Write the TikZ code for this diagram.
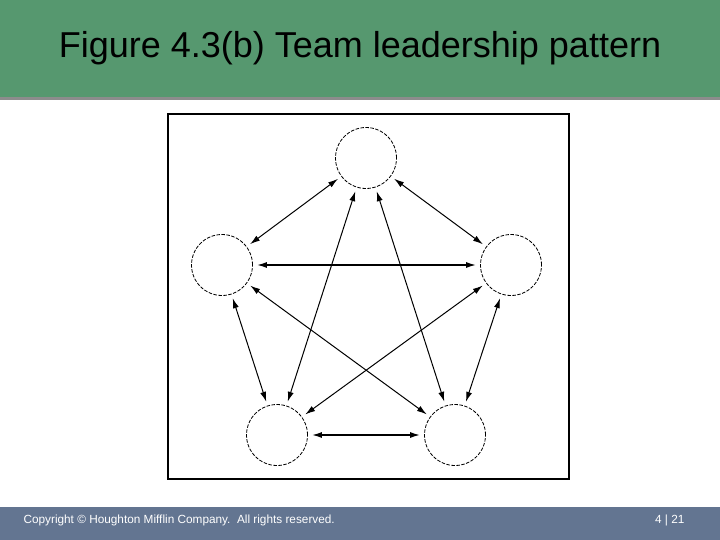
\documentclass[tikz,border=0pt]{standalone}
\usepackage{fontspec}
\setmainfont{Liberation Sans}
\usetikzlibrary{arrows.meta}
\definecolor{titlegreen}{RGB}{86,152,111}
\definecolor{footblue}{RGB}{99,117,145}
\tikzset{
  member/.style={circle,draw,dash pattern=on 3.5pt off 1.5pt,line width=0.8pt,minimum size=61pt,inner sep=0pt},
  link/.style={{Latex[length=10pt,width=6pt]}-{Latex[length=10pt,width=6pt]},line width=1pt,shorten >=4pt,shorten <=4pt}
}
\begin{document}
\begin{tikzpicture}[x=1pt,y=-1pt]
    % set frame
    \useasboundingbox (0,0) rectangle (720,540);
    \fill [white] (0,0) rectangle (720,540);
    \fill [black!45] (0,96) rectangle (720,100);
    \fill [titlegreen] (0,0) rectangle (720,97);
    \fill [footblue] (0,507) rectangle (720,540);
    % add labels
    \node [font=\fontsize{36}{42}\selectfont] (title) at (360,48) {Figure 4.3(b) Team leadership pattern};
    \node [anchor=west,white,font=\fontsize{11.8}{13}\selectfont] (copy) at (20,520) {Copyright \textcopyright\ Houghton Mifflin Company.\ \ All rights reserved.};
    \node [anchor=east,white,font=\fontsize{11.8}{13}\selectfont] (page) at (688,520) {4 | 21};
    % draw figure
    \draw [line width=1.8pt] (168,114) rectangle (569,479);
    \node [member] (A) at (366,158) {};
    \node [member] (B) at (511,265) {};
    \node [member] (C) at (455,435) {};
    \node [member] (D) at (277,435) {};
    \node [member] (E) at (222,265) {};
    % add connectors
    \draw [link] (A) -- (B);
    \draw [link] (A) -- (C);
    \draw [link] (A) -- (D);
    \draw [link] (A) -- (E);
    \draw [link] (B) -- (C);
    \draw [link] (B) -- (D);
    \draw [link,line width=1.5pt] (B) -- (E);
    \draw [link] (C) -- (E);
    \draw [link,line width=1.5pt] (C) -- (D);
    \draw [link] (D) -- (E);
\end{tikzpicture}
\end{document}
